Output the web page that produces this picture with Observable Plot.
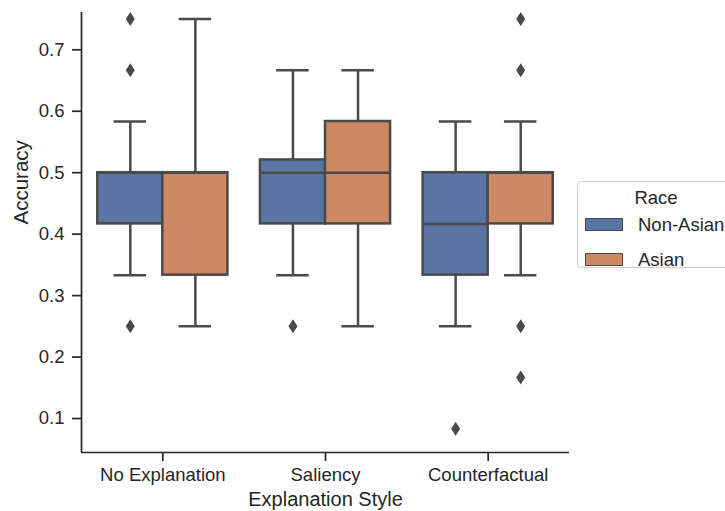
<!DOCTYPE html>
<html>
<head>
<meta charset="utf-8">
<script src="https://cdn.jsdelivr.net/npm/d3@7"></script>
<script src="https://cdn.jsdelivr.net/npm/@observablehq/plot@0.6"></script>
<style>
  html, body { margin: 0; padding: 0; background: white; overflow: hidden; }
  #wrap { position: relative; width: 725px; height: 511px; font-family: "Liberation Sans", Arial, sans-serif; color: #262626; }
  #legend { position: absolute; left: 577px; top: 181px; width: 156px; height: 87px; border: 1px solid #cfcfcf; border-radius: 4px; box-sizing: border-box; background: white; }
  #legend .title { position: absolute; left: 0; width: 156px; top: 5px; text-align: center; font-size: 18.5px; }
  #legend .sw { position: absolute; left: 7px; width: 38px; height: 13px; border: 1px solid #4c4c4c; box-sizing: border-box; }
  #legend .lab { position: absolute; left: 60px; font-size: 18.5px; line-height: 18px; }
</style>
</head>
<body>
<div id="wrap"></div>
<script>
const categories = ["No Explanation", "Saliency", "Counterfactual"];
const races = ["Non-Asian", "Asian"];
const raceColors = ["#5875a4", "#cc8963"];

// box statistics per category, per race
const nonAsianQ1     = [0.4167, 0.4167, 0.3333];
const nonAsianMedian = [0.5,    0.5,    0.4167];
const nonAsianQ3     = [0.5,    0.5208, 0.5];
const nonAsianLow    = [0.3333, 0.3333, 0.25];
const nonAsianHigh   = [0.5833, 0.6667, 0.5833];
const nonAsianOutliers = [[0.75, 0.6667, 0.25], [0.25], [0.0833]];

const asianQ1     = [0.3333, 0.4167, 0.4167];
const asianMedian = [0.5,    0.5,    0.5];
const asianQ3     = [0.5,    0.5833, 0.5];
const asianLow    = [0.25,   0.25,   0.3333];
const asianHigh   = [0.75,   0.6667, 0.5833];
const asianOutliers = [[], [], [0.75, 0.6667, 0.25, 0.1667]];

const yTicks = [0.1, 0.2, 0.3, 0.4, 0.5, 0.6, 0.7];
const yDomain = [0.0447, 0.7607];

const stats = [
  {q1: nonAsianQ1, med: nonAsianMedian, q3: nonAsianQ3, lo: nonAsianLow, hi: nonAsianHigh, out: nonAsianOutliers},
  {q1: asianQ1, med: asianMedian, q3: asianQ3, lo: asianLow, hi: asianHigh, out: asianOutliers}
];

const boxWidth = 0.4;
const rows = [];
const outRows = [];
categories.forEach((cat, i) => {
  races.forEach((race, j) => {
    const s = stats[j];
    const x1 = i - 0.4 + j * boxWidth;
    const c = x1 + boxWidth / 2;
    rows.push({cat, race, x1, x2: x1 + boxWidth, c, cl: c - boxWidth / 4, cr: c + boxWidth / 4,
      q1: s.q1[i], med: s.med[i], q3: s.q3[i], lo: s.lo[i], hi: s.hi[i]});
    s.out[i].forEach(v => outRows.push({cat, race, c, v}));
  });
});

const thinDiamond = {
  draw(ctx, size) {
    ctx.moveTo(0, -7);
    ctx.lineTo(4.5, 0);
    ctx.lineTo(0, 7);
    ctx.lineTo(-4.5, 0);
    ctx.closePath();
  }
};

const gray = "#4a4a4a";
const lw = 2.5;
const ink = "#262626";

const chart = Plot.plot({
  width: 725,
  height: 511,
  marginLeft: 81,
  marginRight: 156,
  marginTop: 12,
  marginBottom: 59,
  style: {fontFamily: "'Liberation Sans', Arial, sans-serif", fontSize: "18.5px", color: ink, background: "white", overflow: "visible"},
  x: {domain: [-0.5, 2.5], axis: null},
  y: {domain: yDomain, axis: null},
  color: {domain: races, range: raceColors},
  marks: [
    // whiskers
    Plot.ruleX(rows, {x: "c", y1: "q3", y2: "hi", stroke: gray, strokeWidth: lw}),
    Plot.ruleX(rows, {x: "c", y1: "lo", y2: "q1", stroke: gray, strokeWidth: lw}),
    Plot.ruleY(rows, {y: "hi", x1: "cl", x2: "cr", stroke: gray, strokeWidth: lw}),
    Plot.ruleY(rows, {y: "lo", x1: "cl", x2: "cr", stroke: gray, strokeWidth: lw}),
    // boxes
    Plot.rect(rows, {x1: "x1", x2: "x2", y1: "q1", y2: "q3", fill: "race", stroke: gray, strokeWidth: lw}),
    Plot.ruleY(rows, {y: "med", x1: "x1", x2: "x2", stroke: gray, strokeWidth: lw}),
    // outliers
    Plot.dot(outRows, {x: "c", y: "v", symbol: thinDiamond, fill: gray, stroke: "none", r: 4}),
    // spines
    Plot.ruleX([-0.5], {y1: yDomain[0], y2: yDomain[1], stroke: ink, strokeWidth: 1.7}),
    Plot.ruleY([yDomain[0]], {x1: -0.5, x2: 2.5, stroke: ink, strokeWidth: 1.7}),
    // axes
    Plot.axisY({ticks: yTicks, tickFormat: d => d.toFixed(1), tickSize: 9, tickPadding: 8, strokeWidth: 1.7, stroke: ink, fill: ink, label: null, fontSize: 18.5}),
    Plot.axisX({ticks: [0, 1, 2], tickFormat: i => categories[i], tickSize: 9, tickPadding: 6, strokeWidth: 1.7, stroke: ink, fill: ink, label: null, fontSize: 18.5}),
    // axis titles
    Plot.text(["Accuracy"], {frameAnchor: "left", text: d => d, rotate: -90, dx: -60, dy: -8, fontSize: 20.5, fill: ink}),
    Plot.text(["Explanation Style"], {frameAnchor: "bottom", text: d => d, dy: 53, fontSize: 20, fill: ink})
  ]
});

const wrap = document.getElementById("wrap");
wrap.appendChild(chart);

const legend = document.createElement("div");
legend.id = "legend";
let html = `<div class="title">Race</div>`;
races.forEach((r, k) => {
  html += `<div class="sw" style="top:${36 + k * 35}px;background:${raceColors[k]}"></div>`;
  html += `<div class="lab" style="top:${34 + k * 35}px">${r}</div>`;
});
legend.innerHTML = html;
wrap.appendChild(legend);
</script>
</body>
</html>
